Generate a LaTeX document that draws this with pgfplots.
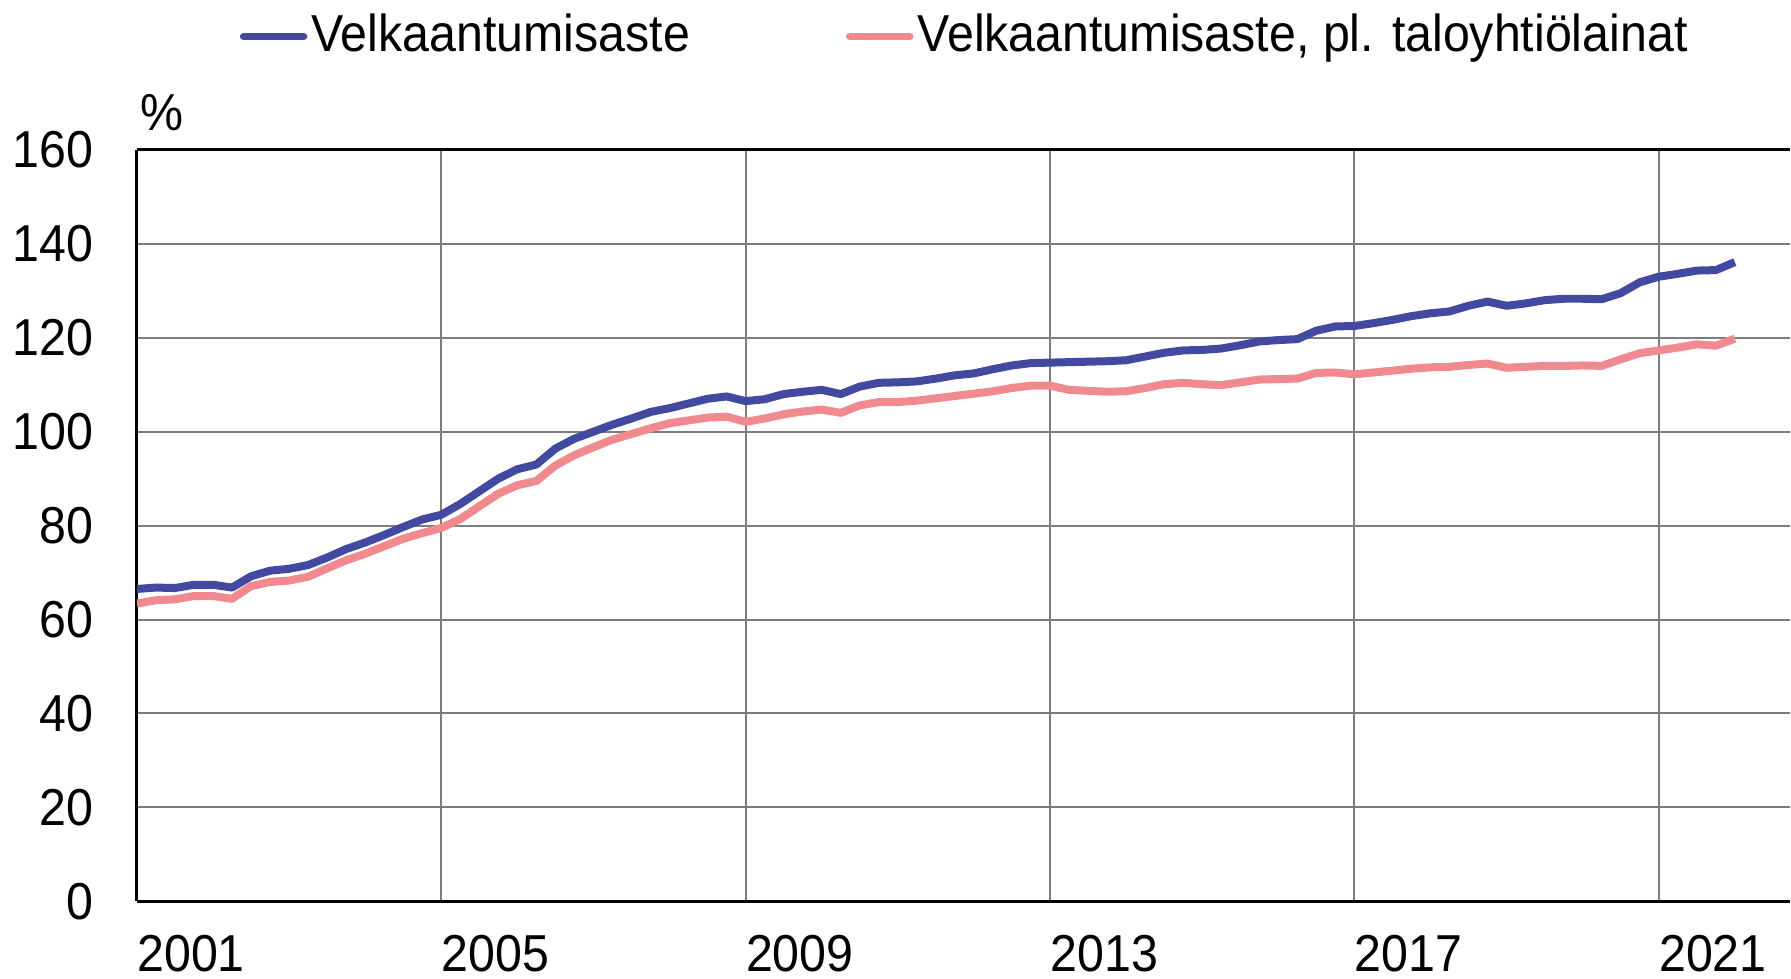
\documentclass[border=0pt]{standalone}
\usepackage{pgfplots}
\pgfplotsset{compat=1.18}
\usepackage{fontspec}
\setmainfont{Liberation Sans}[FakeStretch=0.93]
\definecolor{cblue}{RGB}{65,73,160}
\definecolor{cpink}{RGB}{240,138,142}
\definecolor{cgrid}{RGB}{125,125,125}
\begin{document}
\fontsize{26pt}{31pt}\selectfont
\begin{tikzpicture}
\begin{axis}[
  name=ax,
  scale only axis,
  width=827pt, height=376pt,
  xmin=2001, xmax=2022.72,
  ymin=0, ymax=160,
  xtick={2001,2005,2009,2013,2017,2021},
  xticklabels={2001,2005,2009,2013,2017,2021},
  ytick={0,20,40,60,80,100,120,140,160},
  yticklabels={0,20,40,60,80,100,120,140,160},
  axis x line*=box, axis y line*=left,
  xticklabel pos=lower,
  major tick length=0pt,
  tick style={draw=none},
  grid=major,
  major grid style={draw=cgrid, line width=1pt},
  axis line style={draw=black, line width=1.4pt},
  every axis x line/.append style={-},
  every axis y line/.append style={-},
  xticklabel style={anchor=north west, inner sep=0pt, yshift=-17pt, xshift=0pt, font=\fontsize{26pt}{31pt}\selectfont},
  yticklabel style={anchor=east, inner sep=0pt, xshift=-21.5pt, font=\fontsize{26pt}{31pt}\selectfont},
  legend columns=2,
  legend style={at={(0.5015,1.151)}, anchor=center, draw=none, fill=none,
    font=\fontsize{26pt}{31pt}\selectfont,
    nodes={inner xsep=2pt, inner ysep=0pt},
    /tikz/every even column/.append style={column sep=76pt}},
  legend cell align=left,
  legend image code/.code={\draw[#1, line width=3.8pt, line cap=round] (0pt,0pt) -- (30pt,0pt);},
]
\addplot[cblue, line width=4pt, line join=round] coordinates {
(2001.00,66.5) (2001.25,66.8) (2001.50,66.7) (2001.75,67.4) (2002.00,67.4) (2002.25,66.8)
(2002.50,69.2) (2002.75,70.4) (2003.00,70.8) (2003.25,71.6) (2003.50,73.2) (2003.75,75.0)
(2004.00,76.4) (2004.25,78.0) (2004.50,79.7) (2004.75,81.3) (2005.00,82.3) (2005.25,84.6)
(2005.50,87.3) (2005.75,90.0) (2006.00,92.0) (2006.25,93.0) (2006.50,96.4) (2006.75,98.5)
(2007.00,100.0) (2007.25,101.5) (2007.50,102.8) (2007.75,104.2) (2008.00,105.0) (2008.25,106.0)
(2008.50,107.0) (2008.75,107.5) (2009.00,106.5) (2009.25,106.9) (2009.50,108.0) (2009.75,108.5)
(2010.00,108.9) (2010.25,108.0) (2010.50,109.6) (2010.75,110.4) (2011.00,110.5) (2011.25,110.7)
(2011.50,111.3) (2011.75,112.0) (2012.00,112.4) (2012.25,113.3) (2012.50,114.1) (2012.75,114.6)
(2013.00,114.7) (2013.25,114.8) (2013.50,114.9) (2013.75,115.0) (2014.00,115.2) (2014.25,116.0)
(2014.50,116.8) (2014.75,117.3) (2015.00,117.4) (2015.25,117.7) (2015.50,118.4) (2015.75,119.2)
(2016.00,119.5) (2016.25,119.7) (2016.50,121.5) (2016.75,122.4) (2017.00,122.5) (2017.25,123.1)
(2017.50,123.8) (2017.75,124.6) (2018.00,125.2) (2018.25,125.6) (2018.50,126.8) (2018.75,127.7)
(2019.00,126.8) (2019.25,127.3) (2019.50,128.0) (2019.75,128.3) (2020.00,128.3) (2020.25,128.2)
(2020.50,129.5) (2020.75,131.8) (2021.00,133.0) (2021.25,133.6) (2021.50,134.3) (2021.75,134.4)
(2022.00,136.1)
};
\addlegendentry{Velkaantumisaste}
\addplot[cpink, line width=4pt, line join=round] coordinates {
(2001.00,63.4) (2001.25,64.1) (2001.50,64.3) (2001.75,65.0) (2002.00,65.0) (2002.25,64.4)
(2002.50,67.1) (2002.75,68.0) (2003.00,68.3) (2003.25,69.1) (2003.50,70.9) (2003.75,72.6)
(2004.00,74.0) (2004.25,75.6) (2004.50,77.2) (2004.75,78.4) (2005.00,79.5) (2005.25,81.4)
(2005.50,84.1) (2005.75,86.8) (2006.00,88.6) (2006.25,89.5) (2006.50,92.8) (2006.75,95.0)
(2007.00,96.7) (2007.25,98.3) (2007.50,99.5) (2007.75,100.7) (2008.00,101.8) (2008.25,102.4)
(2008.50,103.0) (2008.75,103.2) (2009.00,102.1) (2009.25,102.8) (2009.50,103.7) (2009.75,104.3)
(2010.00,104.7) (2010.25,104.0) (2010.50,105.6) (2010.75,106.3) (2011.00,106.3) (2011.25,106.6)
(2011.50,107.1) (2011.75,107.6) (2012.00,108.1) (2012.25,108.6) (2012.50,109.3) (2012.75,109.8)
(2013.00,109.8) (2013.25,108.9) (2013.50,108.7) (2013.75,108.5) (2014.00,108.6) (2014.25,109.3)
(2014.50,110.1) (2014.75,110.4) (2015.00,110.1) (2015.25,109.9) (2015.50,110.5) (2015.75,111.1)
(2016.00,111.2) (2016.25,111.3) (2016.50,112.5) (2016.75,112.6) (2017.00,112.2) (2017.25,112.6)
(2017.50,113.0) (2017.75,113.4) (2018.00,113.7) (2018.25,113.8) (2018.50,114.2) (2018.75,114.5)
(2019.00,113.6) (2019.25,113.8) (2019.50,114.0) (2019.75,114.0) (2020.00,114.1) (2020.25,114.0)
(2020.50,115.4) (2020.75,116.7) (2021.00,117.3) (2021.25,117.9) (2021.50,118.6) (2021.75,118.3)
(2022.00,119.8)
};
\addlegendentry{Velkaantumisaste, pl. taloyhtiölainat}
\end{axis}
\node[anchor=south west, inner sep=0pt, xshift=1.5pt, yshift=9.5pt] at (ax.north west) {\%};
\path ([xshift=-68.5pt, yshift=-38.5pt]ax.south west) rectangle ++(895.5pt,489.5pt);
\end{tikzpicture}
\end{document}
